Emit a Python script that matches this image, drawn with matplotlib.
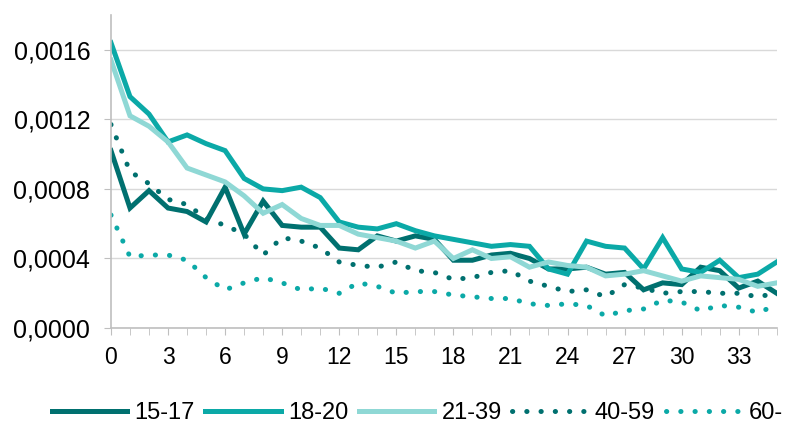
import numpy as np
import matplotlib.pyplot as plt
from matplotlib.ticker import FuncFormatter, MultipleLocator

plt.rcParams['font.family'] = ['Liberation Sans', 'DejaVu Sans']

weeks = np.arange(36)
labels = ["15-17", "18-20", "21-39", "40-59", "60-"]

s15_17 = [0.00102, 0.00069, 0.00079, 0.00069, 0.00067, 0.00061, 0.00081, 0.00054, 0.00073,
          0.00059, 0.00058, 0.00058, 0.00046, 0.00045, 0.00053, 0.00050, 0.00053, 0.00051,
          0.00039, 0.00039, 0.00042, 0.00043, 0.00040, 0.00034, 0.00034, 0.00035, 0.00031,
          0.00032, 0.00022, 0.00026, 0.00025, 0.00035, 0.00033, 0.00023, 0.00027, 0.00020]
s18_20 = [0.00164, 0.00133, 0.00123, 0.00107, 0.00111, 0.00106, 0.00102, 0.00086, 0.00080,
          0.00079, 0.00081, 0.00075, 0.00061, 0.00058, 0.00057, 0.00060, 0.00056, 0.00053,
          0.00051, 0.00049, 0.00047, 0.00048, 0.00047, 0.00034, 0.00031, 0.00050, 0.00047,
          0.00046, 0.00034, 0.00052, 0.00034, 0.00032, 0.00039, 0.00029, 0.00031, 0.00038]
s21_39 = [0.00154, 0.00122, 0.00116, 0.00107, 0.00092, 0.00088, 0.00084, 0.00076, 0.00066,
          0.00071, 0.00063, 0.00059, 0.00059, 0.00054, 0.00052, 0.00050, 0.00046, 0.00050,
          0.00040, 0.00045, 0.00040, 0.00041, 0.00035, 0.00038, 0.00036, 0.00035, 0.00030,
          0.00031, 0.00033, 0.00030, 0.00027, 0.00030, 0.00029, 0.00028, 0.00024, 0.00026]
s40_59 = [0.00117, 0.00090, 0.00083, 0.00074, 0.00071, 0.00063, 0.00059, 0.00054, 0.00042,
          0.00052, 0.00050, 0.00046, 0.00038, 0.00036, 0.00035, 0.00038, 0.00033, 0.00032,
          0.00028, 0.00029, 0.00032, 0.00033, 0.00027, 0.00024, 0.00021, 0.00022, 0.00018,
          0.00025, 0.00023, 0.00020, 0.00021, 0.00021, 0.00020, 0.00020, 0.00018, 0.00020]
s60 = [0.00065, 0.00041, 0.00042, 0.00042, 0.00039, 0.00029, 0.00022, 0.00026, 0.00029,
       0.00026, 0.00022, 0.00023, 0.00020, 0.00026, 0.00024, 0.00020, 0.00021, 0.00021,
       0.00019, 0.00018, 0.00017, 0.00017, 0.00014, 0.00013, 0.00014, 0.00013, 0.00007,
       0.00010, 0.00011, 0.00016, 0.00015, 0.00010, 0.00013, 0.00012, 0.00009, 0.00013]

c_dark = "#00706F"
c_mid = "#0BA9A7"
c_light = "#8FD8D5"

fig = plt.figure(figsize=(7.87, 4.25), dpi=100)
ax = fig.add_axes([0.141, 0.228, 0.846, 0.737])

ax.plot(weeks, s15_17, color=c_dark, lw=3.6, label=labels[0], solid_joinstyle='miter')
ax.plot(weeks, s18_20, color=c_mid, lw=3.6, label=labels[1], solid_joinstyle='miter')
ax.plot(weeks, s21_39, color=c_light, lw=3.6, label=labels[2], solid_joinstyle='miter')
ax.plot(weeks, s40_59, color=c_dark, lw=3.6, linestyle=(0, (0.05, 2.8)),
        dash_capstyle='round', label=labels[3])
ax.plot(weeks, s60, color=c_mid, lw=3.6, linestyle=(0, (0.05, 2.8)),
        dash_capstyle='round', label=labels[4])

ax.set_xlim(0, 35)
ax.set_ylim(0, 0.0018)
ax.xaxis.set_major_locator(MultipleLocator(3))
ax.xaxis.set_minor_locator(MultipleLocator(1))
ax.yaxis.set_major_locator(MultipleLocator(0.0004))
ax.yaxis.set_major_formatter(FuncFormatter(lambda v, p: f"{v:.4f}".replace(".", ",")))

ax.grid(axis='y', color="#D9D9D9", lw=1)
ax.set_axisbelow(True)
for side in ["top", "right"]:
    ax.spines[side].set_visible(False)
for side in ["left", "bottom"]:
    ax.spines[side].set_color("#BFBFBF")
    ax.spines[side].set_linewidth(1.2)
ax.tick_params(axis='x', which='both', length=5, color="#BFBFBF", labelsize=16.5, pad=8)
ax.tick_params(axis='y', length=5, color="#BFBFBF", labelsize=18, pad=10)

fig.legend(loc='center', ncol=5, bbox_to_anchor=(0.53, 0.028), frameon=False,
           fontsize=17, handlelength=3.2, columnspacing=0.45, handletextpad=0.3,
           borderaxespad=0)

fig.savefig("out.png", dpi=100)
